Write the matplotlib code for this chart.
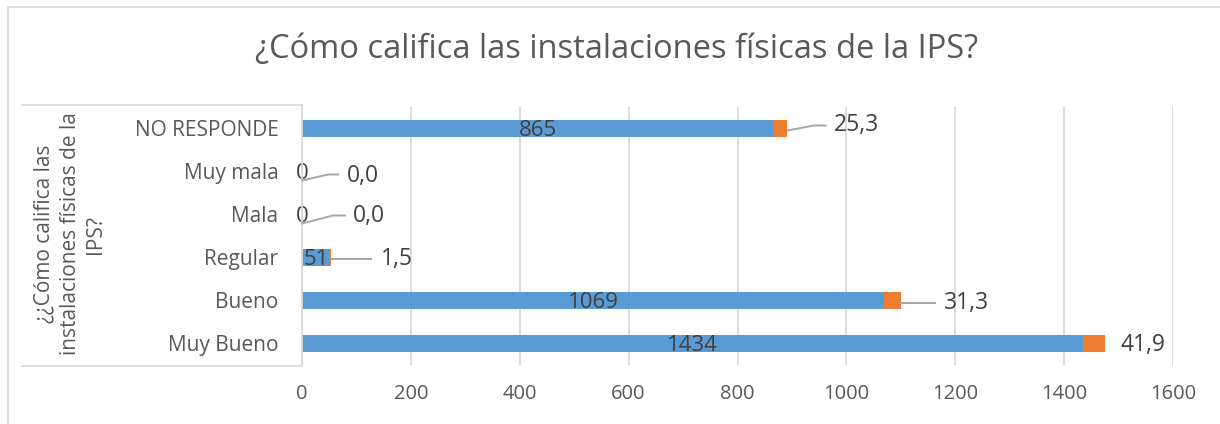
import matplotlib
matplotlib.use("Agg")
import matplotlib.pyplot as plt
from matplotlib.lines import Line2D
from matplotlib.patches import Rectangle

categories = ["Muy Bueno", "Bueno", "Regular", "Mala", "Muy mala", "NO RESPONDE"]
counts = [1434, 1069, 51, 0, 0, 865]
percents = [41.9, 31.3, 1.5, 0.0, 0.0, 25.3]
xticks = [0, 200, 400, 600, 800, 1000, 1200, 1400, 1600]
title = "¿Cómo califica las instalaciones físicas de la IPS?"
ylabel = "¿¿Cómo califica las\ninstalaciones físicas de la\nIPS?"

BLUE = "#5B9BD5"
ORANGE = "#ED7D31"
TXT = "#595959"
LBL = "#404040"
GRID = "#D9D9D9"
LEADER = "#A6A6A6"
FONT = "Open Sans"

W, H = 1220, 424
fig = plt.figure(figsize=(W / 100, H / 100), dpi=100)
L, R, T, B = 302, 1173, 107, 365
ax = fig.add_axes([L / W, 1 - B / H, (R - L) / W, (B - T) / H])

y = list(range(len(categories)))
ax.barh(y, counts, height=0.4, color=BLUE, zorder=3)
ax.barh(y, percents, left=counts, height=0.4, color=ORANGE, zorder=3)

ax.set_xlim(0, 1600)
ax.set_ylim(-0.5, len(categories) - 0.5)
ax.set_xticks(xticks)
ax.set_xticklabels([str(v) for v in xticks], fontsize=14.5, color=TXT, family=FONT)
ax.set_yticks(y)
ax.set_yticklabels(categories, fontsize=15, color=TXT, family=FONT)
ax.tick_params(axis="both", length=0)
ax.tick_params(axis="y", pad=17)
ax.tick_params(axis="x", pad=14)
ax.grid(axis="x", color=GRID, linewidth=1.3, zorder=0)
for s in ax.spines.values():
    s.set_visible(False)

# value labels inside the blue bars
for yi, c in zip(y, counts):
    ax.text(c / 2, yi - 0.04, str(c), ha="center", va="center", fontsize=16,
            color=LBL, family=FONT, zorder=5)

# leader-line layout, in pixels relative to the bar end (x right, y down):
# list of polyline vertices, then the label position
leaders = [
    ([], (15, 1)),
    ([(0, 2), (34, 2)], (43, 2)),
    ([(0, 2), (40, 2)], (50, 2)),
    ([(0, 9), (31, 1), (43, 1)], (51, 2)),
    ([(0, 9), (26, 3), (36, 3)], (45, 5)),
    ([(1, 2), (27, -3), (39, -3)], (47, -3)),
]
for yi, c, p, (pts, (lx, ly)) in zip(y, counts, percents, leaders):
    end = c + p
    ex, ey = ax.transData.transform((end, yi))
    lab = f"{p:.1f}".replace(".", ",")
    if pts:
        xs = [ex + px for px, py in pts]
        ys = [ey - py for px, py in pts]
        fig.add_artist(Line2D(xs, ys, transform=None, color=LEADER, lw=1.4,
                              zorder=6))
    fig.text(ex + lx, ey - ly, lab, transform=None, ha="left", va="center",
             fontsize=16.5, color=LBL, family=FONT, zorder=6)

# title
fig.text(617 / W, 1 - 50 / H, title, ha="center", va="center", fontsize=23.5,
         color=TXT, family=FONT)

# axis title (rotated)
fig.text(70 / W, 1 - 234 / H, ylabel, ha="center", va="center", rotation=90,
         fontsize=15, color=TXT, family=FONT, linespacing=1.3,
         multialignment="center")

# category-axis box lines
fig.add_artist(Line2D([22 / W, 302 / W], [1 - 105 / H, 1 - 105 / H], color=GRID, lw=1.3))
fig.add_artist(Line2D([22 / W, 302 / W], [1 - 366 / H, 1 - 366 / H], color=GRID, lw=1.3))
fig.add_artist(Line2D([302 / W, 302 / W], [1 - 105 / H, 1 - 366 / H], color=GRID, lw=1.3))

# outer chart border
fig.add_artist(Rectangle((8 / W, -0.1), 1.2, 1 - 7 / H + 0.1, transform=fig.transFigure,
                         fill=False, edgecolor=GRID, lw=1.3))

fig.savefig("out.png", dpi=100)
